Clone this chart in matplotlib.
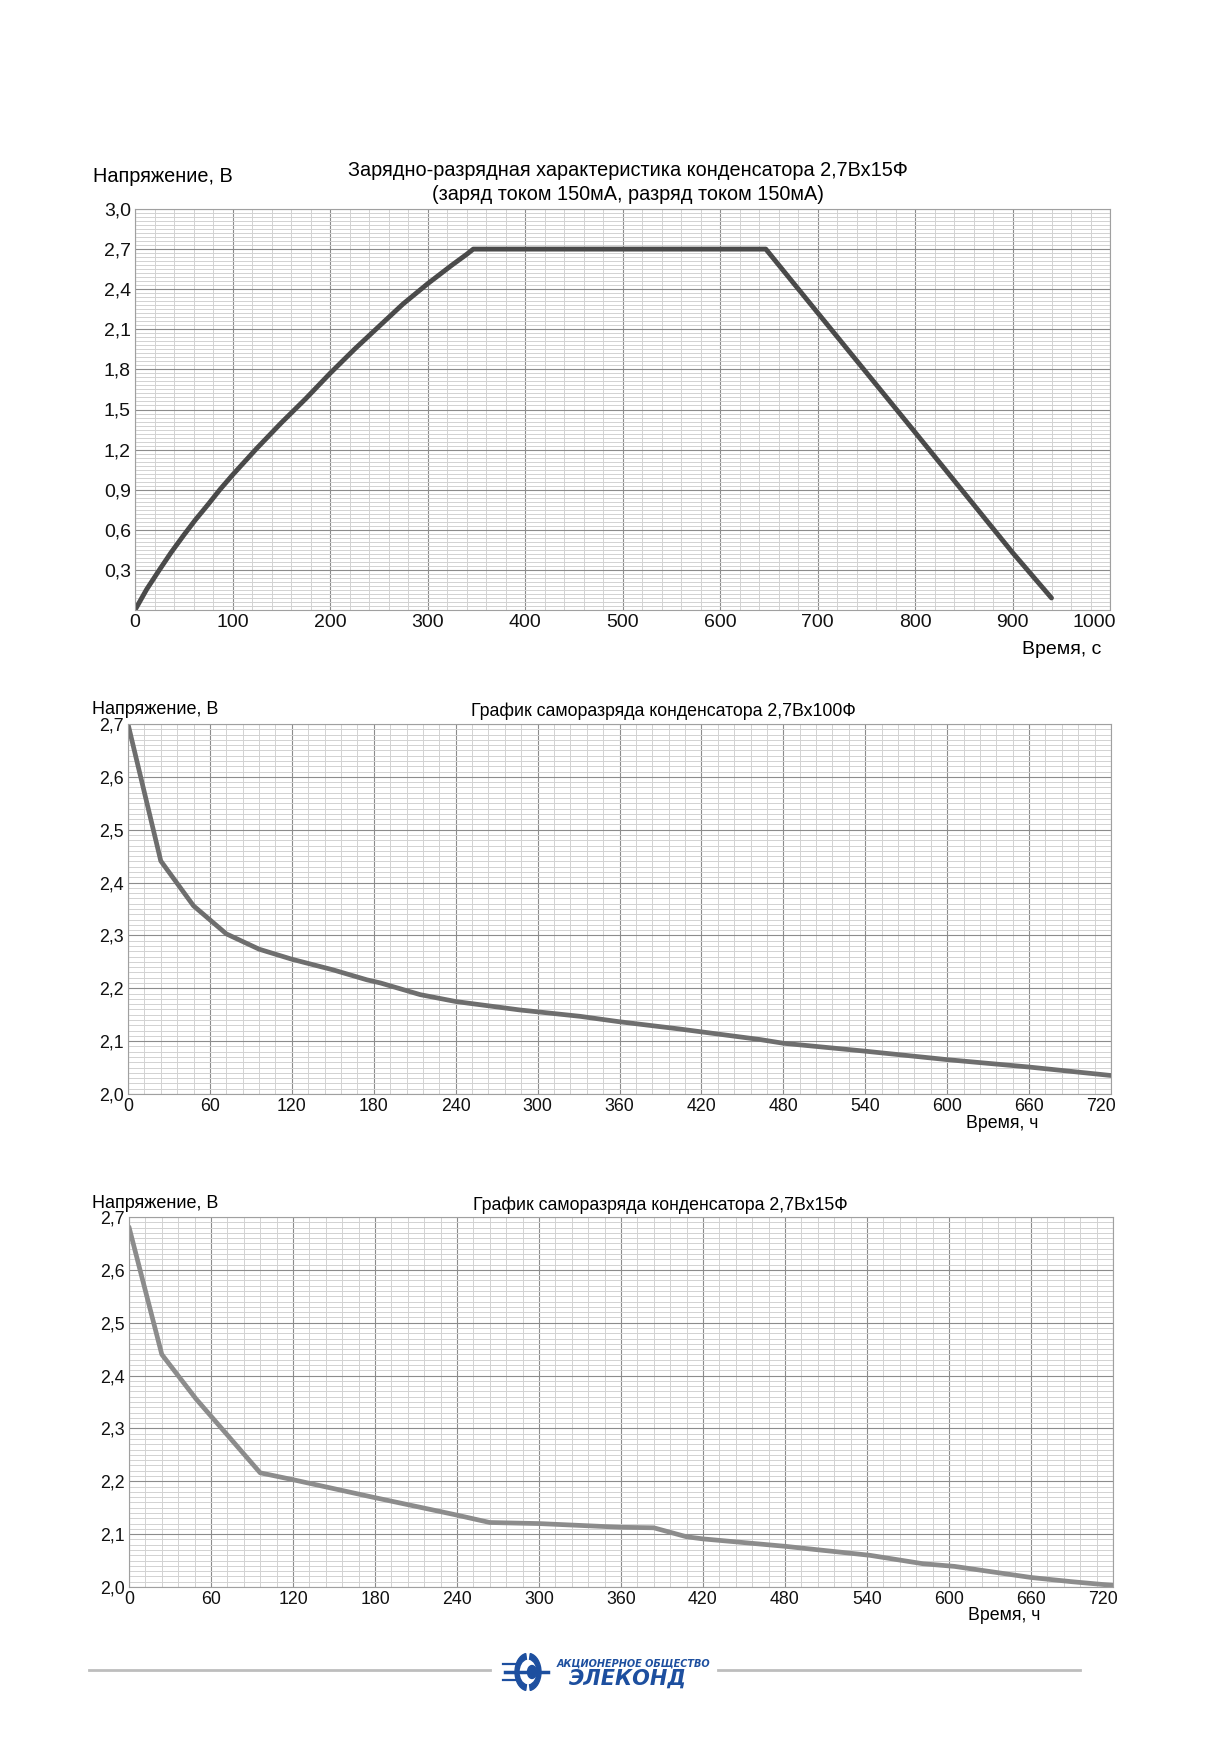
import numpy as np
import matplotlib
matplotlib.use('Agg')
import matplotlib.pyplot as plt
from matplotlib.ticker import MultipleLocator, FuncFormatter
from matplotlib.patches import Circle, Wedge

plt.rcParams['font.family'] = ['Liberation Sans', 'DejaVu Sans']

# --- данные: заряд/разряд 2,7В x 15Ф ---
t_charge = [0, 12, 25, 37, 50, 62, 75, 87, 100, 125, 150, 175, 200, 225, 250, 275, 300, 325, 340, 347,
            647, 700, 800, 900, 940]
v_charge = [0, 0.155, 0.30, 0.43, 0.56, 0.675, 0.79, 0.90, 1.01, 1.21, 1.40, 1.58, 1.77, 1.95, 2.12, 2.29,
            2.44, 2.58, 2.66, 2.70, 2.70, 2.225, 1.33, 0.43, 0.09]

# --- саморазряд 2,7В x 100Ф ---
t_100 = [0, 24, 48, 72, 96, 120, 150, 175, 185, 214, 240, 287, 331, 359, 404, 463, 480, 540, 600, 660, 720]
v_100 = [2.700, 2.441, 2.356, 2.303, 2.274, 2.255, 2.235, 2.216, 2.210, 2.188, 2.175, 2.159, 2.147,
         2.137, 2.123, 2.103, 2.096, 2.081, 2.065, 2.051, 2.035]

# --- саморазряд 2,7В x 15Ф ---
t_15 = [0, 24, 49, 96, 120, 180, 240, 264, 300, 360, 384, 408, 420, 480, 542, 581, 604, 660, 690, 720]
v_15 = [2.681, 2.440, 2.356, 2.216, 2.203, 2.169, 2.136, 2.122, 2.120, 2.113, 2.112, 2.095, 2.091,
        2.077, 2.060, 2.044, 2.039, 2.018, 2.010, 2.003]

W, H = 1210, 1741
fig = plt.figure(figsize=(W / 100, H / 100), dpi=100)


def px_axes(l, t, r, b):
    return fig.add_axes([l / W, 1 - b / H, (r - l) / W, (b - t) / H])


def ftext(x, y, s, **kw):
    fig.text(x / W, 1 - y / H, s, **kw)


yfmt = FuncFormatter(lambda v, p: ('%.1f' % v).replace('.', ','))


def style(ax, fs, last_shift):
    ax.grid(which='minor', color='#d2d2d2', lw=0.7)
    ax.grid(which='major', color='#8c8c8c', lw=0.8)
    ax.set_axisbelow(True)
    for s in ax.spines.values():
        s.set_color('#a0a0a0')
        s.set_linewidth(0.8)
    ax.tick_params(which='both', length=0, labelsize=fs, pad=3, colors='#111111')
    x0, x1 = ax.get_xlim()
    # последняя подпись по оси X в оригинале сдвинута влево
    ax.xaxis.set_major_formatter(FuncFormatter(lambda v, p: '' if v >= x1 else '%d' % round(v)))
    ax.yaxis.set_major_formatter(yfmt)
    ax.annotate('%d' % x1, xy=(x1, ax.get_ylim()[0]), xytext=(-last_shift, -3),
                textcoords='offset points', ha='center', va='top', fontsize=fs, color='#111111',
                annotation_clip=False)


# ---------- график 1 ----------
ax1 = px_axes(135, 209, 1110, 610)
ax1.plot(t_charge, v_charge, color='#4a4a4a', lw=3.5, solid_capstyle='round', solid_joinstyle='round')
ax1.set_xlim(0, 1000)
ax1.set_ylim(0, 3.0)
ax1.xaxis.set_major_locator(MultipleLocator(100))
ax1.xaxis.set_minor_locator(MultipleLocator(20))
ax1.set_yticks(np.arange(0.3, 3.01, 0.3))
ax1.yaxis.set_minor_locator(MultipleLocator(0.03))
style(ax1, 14, 11.5)
ftext(93, 177, 'Напряжение, В', fontsize=14.3, va='center', ha='left')
ftext(628, 170, 'Зарядно-разрядная характеристика конденсатора 2,7Вх15Ф', fontsize=14.3,
      va='center', ha='center')
ftext(628, 194, '(заряд током 150мА, разряд током 150мА)', fontsize=14.3, va='center', ha='center')
ftext(1101, 649, 'Время, с', fontsize=14, va='center', ha='right')

# ---------- график 2 ----------
ax2 = px_axes(128, 724, 1111, 1094)
ax2.plot(t_100, v_100, color='#6e6e6e', lw=3.4, solid_capstyle='round', solid_joinstyle='round')
ax2.set_xlim(0, 720)
ax2.set_ylim(2.0, 2.7)
ax2.xaxis.set_major_locator(MultipleLocator(60))
ax2.xaxis.set_minor_locator(MultipleLocator(12))
ax2.set_yticks(np.arange(2.0, 2.71, 0.1))
ax2.yaxis.set_minor_locator(MultipleLocator(0.01))
style(ax2, 12.8, 7)
ftext(92, 709, 'Напряжение, В', fontsize=13, va='center', ha='left')
ftext(663, 711, 'График саморазряда конденсатора 2,7Вх100Ф', fontsize=12.8, va='center', ha='center')
ftext(1038, 1123, 'Время, ч', fontsize=12.8, va='center', ha='right')

# ---------- график 3 ----------
ax3 = px_axes(129, 1217, 1113, 1587)
ax3.plot(t_15, v_15, color='#8c8c8c', lw=3.4, solid_capstyle='round', solid_joinstyle='round')
ax3.set_xlim(0, 720)
ax3.set_ylim(2.0, 2.7)
ax3.xaxis.set_major_locator(MultipleLocator(60))
ax3.xaxis.set_minor_locator(MultipleLocator(12))
ax3.set_yticks(np.arange(2.0, 2.71, 0.1))
ax3.yaxis.set_minor_locator(MultipleLocator(0.01))
style(ax3, 12.8, 7)
ftext(92, 1204, 'Напряжение, В', fontsize=13, va='center', ha='left')
ftext(660, 1205, 'График саморазряда конденсатора 2,7Вх15Ф', fontsize=12.8, va='center', ha='center')
ftext(1040, 1615, 'Время, ч', fontsize=12.8, va='center', ha='right')

# ---------- подвал с логотипом ----------
blue = '#1d4f9f'
fig.add_artist(plt.Line2D([89 / W, 490 / W], [1 - 1670 / H] * 2, color='#bdbdbd', lw=2))
fig.add_artist(plt.Line2D([718 / W, 1080 / W], [1 - 1670 / H] * 2, color='#bdbdbd', lw=2))
cx, cy = 528 / W, 1 - 1672 / H
fig.add_artist(Wedge((cx, cy), 13 / W, 100, 260, width=4 / W, color=blue,
                     transform=fig.transFigure))
fig.add_artist(Wedge((cx, cy), 13 / W, -80, 80, width=4 / W, color=blue,
                     transform=fig.transFigure))
fig.add_artist(plt.Line2D([505 / W, 548 / W], [cy, cy], color=blue, lw=2.5))
fig.add_artist(plt.Line2D([503 / W, 520 / W], [1 - 1664 / H, 1 - 1664 / H], color=blue, lw=1.6))
fig.add_artist(plt.Line2D([503 / W, 520 / W], [1 - 1680 / H, 1 - 1680 / H], color=blue, lw=1.6))
fig.add_artist(Circle((532 / W, cy), 4.5 / W, color=blue, transform=fig.transFigure))
ftext(633, 1664, 'АКЦИОНЕРНОЕ ОБЩЕСТВО', fontsize=7, fontweight='bold', style='italic',
      family='DejaVu Sans', color=blue, va='center', ha='center')
ftext(628, 1679, 'ЭЛЕКОНД', fontsize=15, fontweight='bold', style='italic',
      family='DejaVu Sans', color=blue, va='center', ha='center')

fig.savefig('out.png', dpi=100, facecolor='white')
